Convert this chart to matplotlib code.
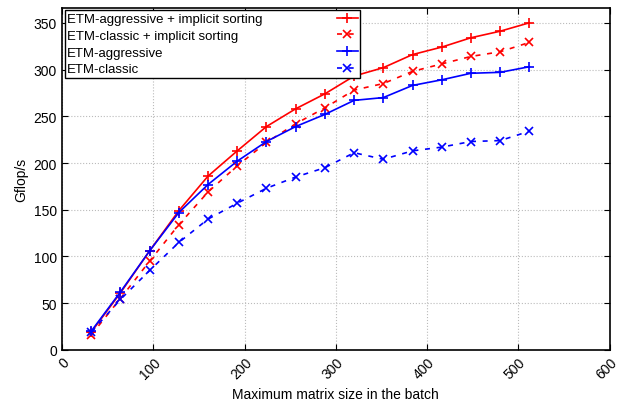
import matplotlib
matplotlib.use("Agg")
import matplotlib.pyplot as plt

plt.rcParams['font.family'] = ['Liberation Sans', 'DejaVu Sans']

# matrix sizes in the batch
sizes = [32, 64, 96, 128, 160, 192, 224, 256, 288, 320, 352, 384, 416, 448, 480, 512]

aggr_sort = [19, 61, 106, 149, 186, 213, 239, 258, 274, 293, 302, 316, 324, 334, 341, 350]
classic_sort = [16, 55, 95, 134, 169, 197, 222, 242, 259, 278, 285, 298, 306, 314, 319, 329]
aggr = [20, 62, 106, 147, 177, 202, 223, 239, 252, 267, 270, 283, 289, 296, 297, 303]
classic = [19, 54, 85, 115, 140, 157, 173, 185, 195, 211, 204, 213, 217, 223, 224, 234]

labels = ['ETM-aggressive + implicit sorting', 'ETM-classic + implicit sorting',
          'ETM-aggressive', 'ETM-classic']

fig = plt.figure(figsize=(6.21, 4.02), dpi=100)
ax = fig.add_axes([0.0998, 0.127, 0.882, 0.851])

ax.plot(sizes, aggr_sort, color='#ff0000', ls='-', marker='+', ms=6.5, mew=1.2, lw=1.2, label=labels[0])
ax.plot(sizes, classic_sort, color='#ff0000', ls=(0, (3, 4)), marker='x', ms=5.5, mew=1.2, lw=1.2, label=labels[1])
ax.plot(sizes, aggr, color='#0000ff', ls='-', marker='+', ms=6.5, mew=1.2, lw=1.2, label=labels[2])
ax.plot(sizes, classic, color='#0000ff', ls=(0, (3, 4)), marker='x', ms=5.5, mew=1.2, lw=1.2, label=labels[3])

ax.set_xlim(0, 600)
ax.set_ylim(0, 366)
ax.set_xticks(range(0, 601, 100))
ax.set_yticks(range(0, 351, 50))
ax.grid(True, color='#bbbbbb', ls=':', lw=0.8)
ax.tick_params(direction='in', top=True, right=True, length=4, labelsize=10)
plt.setp(ax.get_xticklabels(), rotation=45, ha='right', rotation_mode='anchor')
for s in ax.spines.values():
    s.set_linewidth(1.2)

ax.set_xlabel('Maximum matrix size in the batch', fontsize=10)
ax.set_ylabel('Gflop/s', fontsize=10)

fs = 9.5
pad = 5.6
leg = ax.legend(loc='upper left', markerfirst=False, fontsize=fs, frameon=True,
                fancybox=False, framealpha=1, edgecolor='black', handlelength=1.6,
                handletextpad=pad, labelspacing=0.33, borderpad=0.2, borderaxespad=0.2)
leg.get_frame().set_linewidth(1.0)

# left-align legend text while keeping the markers in one column on the right
fig.canvas.draw()
r = fig.canvas.get_renderer()
widths = [t.get_window_extent(r).width for t in leg.get_texts()]
px_per_pt = r.points_to_pixels(1.0)
items = leg._legend_handle_box.get_children()[0].get_children()
for box, w in zip(items, widths):
    box.sep = pad * fs + (max(widths) - w) / px_per_pt

fig.savefig('out.png', dpi=100)
